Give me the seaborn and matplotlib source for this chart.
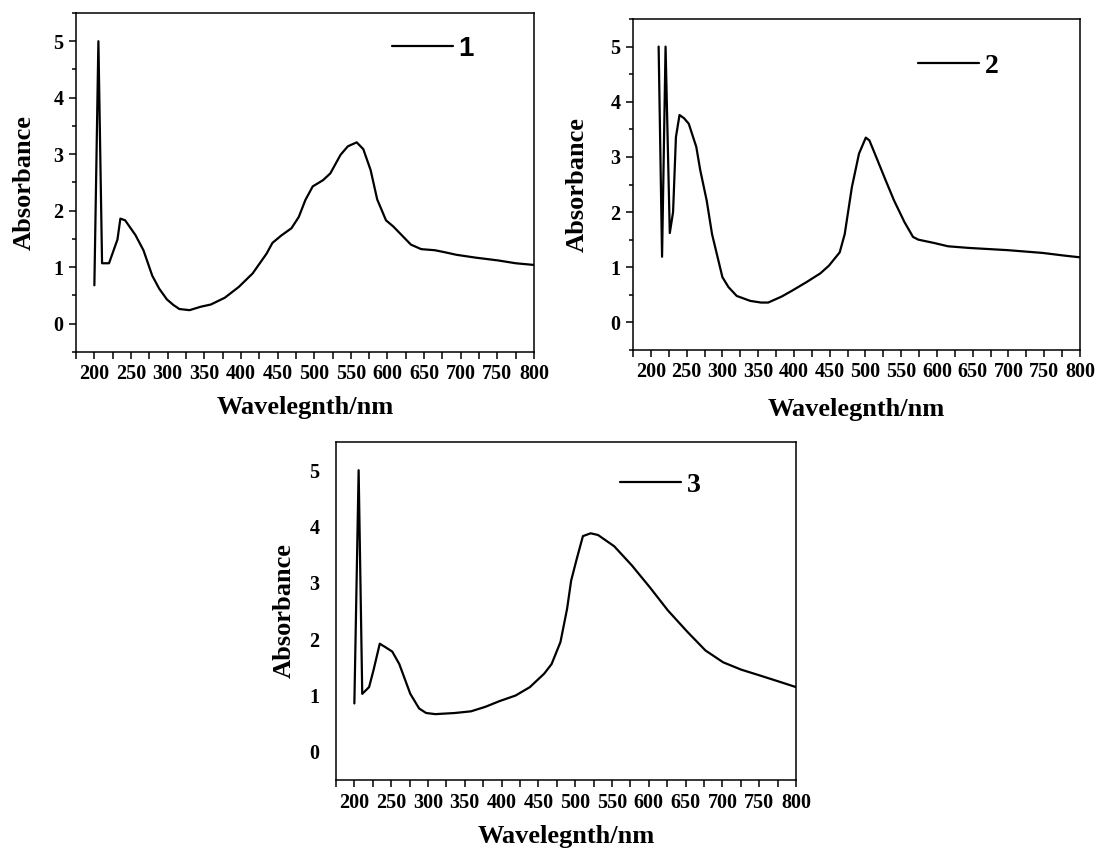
import numpy as np
import pandas as pd
import matplotlib
matplotlib.use('Agg')
import matplotlib.pyplot as plt
from matplotlib.ticker import MultipleLocator
import seaborn as sns

# ─── Data ─────────────────────────────────────────────────────────────────────
wl1 = [200, 205.5, 210.5, 220, 231.5, 235.5, 242, 256, 267, 279, 288.5, 299,
       308, 316, 330, 345, 359, 378, 397, 416, 435, 443, 455, 469, 479, 488,
       498, 512, 522, 536, 546, 558, 567, 577, 586, 598, 608, 617, 632, 646,
       665, 680, 694, 720, 751, 775, 800]
abs1 = [0.68, 5.0, 1.07, 1.07, 1.49, 1.86, 1.83, 1.57, 1.30, 0.85, 0.62, 0.43,
        0.33, 0.26, 0.24, 0.30, 0.34, 0.46, 0.65, 0.89, 1.24, 1.43, 1.56, 1.69,
        1.89, 2.19, 2.43, 2.54, 2.66, 2.99, 3.14, 3.21, 3.09, 2.72, 2.20, 1.83,
        1.72, 1.60, 1.40, 1.32, 1.30, 1.26, 1.22, 1.17, 1.12, 1.07, 1.04]

wl2 = [210.8, 215.6, 220.5, 226.4, 231, 235, 240, 246.5, 253, 263.5, 269,
       278, 285.5, 300, 308.5, 320, 339, 354, 364, 383, 398, 417.5, 437, 449,
       464, 471, 481, 491, 500.5, 505.5, 515, 527.5, 540, 554.5, 566.5, 574,
       596, 615.5, 645, 699, 747.5, 779, 800]
abs2 = [5.0, 1.19, 5.0, 1.62, 2.0, 3.36, 3.76, 3.70, 3.60, 3.18, 2.76, 2.21,
        1.60, 0.82, 0.64, 0.48, 0.39, 0.36, 0.36, 0.47, 0.58, 0.73, 0.89, 1.03,
        1.27, 1.60, 2.45, 3.06, 3.35, 3.30, 3.00, 2.60, 2.21, 1.82, 1.55, 1.50,
        1.44, 1.38, 1.35, 1.31, 1.26, 1.21, 1.18]

wl3 = [200, 205.8, 210.7, 220, 226, 234.5, 242, 251.5, 261, 276, 288, 297.5,
       310, 336.5, 358.5, 378, 397, 419, 438.5, 458, 468, 480, 489, 494.5,
       502, 510.5, 521, 531, 553, 577, 601.5, 626, 652.5, 677, 701, 725.5,
       750, 774, 800]
abs3 = [0.86, 5.0, 1.03, 1.15, 1.45, 1.92, 1.86, 1.78, 1.56, 1.03, 0.77, 0.69,
        0.67, 0.69, 0.72, 0.80, 0.90, 1.00, 1.15, 1.39, 1.56, 1.95, 2.54, 3.04,
        3.42, 3.83, 3.88, 3.85, 3.65, 3.31, 2.92, 2.51, 2.13, 1.80, 1.59, 1.46,
        1.36, 1.26, 1.15]

LABELS = ['1', '2', '3']
XTICKS = list(range(200, 801, 50))
YTICKS = [0, 1, 2, 3, 4, 5]

# ─── Style ────────────────────────────────────────────────────────────────────
sns.set_style('ticks')
plt.rcParams['font.family'] = ['Liberation Serif', 'DejaVu Serif']
plt.rcParams['font.weight'] = 'bold'
plt.rcParams['axes.labelweight'] = 'bold'
plt.rcParams['axes.linewidth'] = 1.1
plt.rcParams['axes.edgecolor'] = 'black'
for key in ['text.color', 'axes.labelcolor', 'xtick.color', 'ytick.color']:
    plt.rcParams[key] = 'black'

fig = plt.figure(figsize=(10.99, 8.57), dpi=100)

boxes = [
    [0.0692, 0.5893, 0.4167, 0.3956],
    [0.5760, 0.5916, 0.4067, 0.3862],
    [0.3057, 0.0898, 0.4186, 0.3944],
]
legend_pos  = [(0.69, 0.894), (0.638, 0.858), (0.617, 0.873)]
legend_font = [['Liberation Sans'], ['Liberation Serif'], ['Liberation Serif']]
ylabel_x    = [-0.087, -0.10, -0.087]
xlabel_y    = [-0.130, -0.145, -0.133]

series = [(wl1, abs1), (wl2, abs2), (wl3, abs3)]

for i, ((wl, ab), box) in enumerate(zip(series, boxes)):
    ax = fig.add_axes(box)
    df = pd.DataFrame({'Wavelength': wl, 'Absorbance': ab})
    sns.lineplot(data=df, x='Wavelength', y='Absorbance', ax=ax,
                 color='black', lw=1.6, sort=False, estimator=None,
                 label=LABELS[i])

    ax.set_xlim(175, 800)
    ax.set_ylim(-0.5, 5.5)
    ax.set_xticks(XTICKS)
    ax.xaxis.set_minor_locator(MultipleLocator(25))
    ax.set_yticks(YTICKS)
    ax.tick_params(axis='x', which='major', length=5, width=1.1,
                   labelsize=14.5, pad=4, direction='out')
    ax.tick_params(axis='x', which='minor', length=5, width=1.1,
                   direction='out')
    if i < 2:
        ax.yaxis.set_minor_locator(MultipleLocator(0.5))
        ax.tick_params(axis='y', which='major', length=5, width=1.1,
                       labelsize=14.5, pad=4, direction='out')
        ax.tick_params(axis='y', which='minor', length=3, width=1.1,
                       direction='out')
    else:
        ax.tick_params(axis='y', which='both', length=0, labelsize=14.5, pad=12)

    for lab in ax.get_xticklabels() + ax.get_yticklabels():
        lab.set_fontweight('bold')

    for sp in ax.spines.values():
        sp.set_visible(True)
        sp.set_color('black')
        sp.set_linewidth(1.1)

    ax.set_xlabel('Wavelegnth/nm', fontsize=19, fontweight='bold')
    ax.set_ylabel('Absorbance', fontsize=19, fontweight='bold')
    ax.xaxis.set_label_coords(0.5, xlabel_y[i])
    ax.yaxis.set_label_coords(ylabel_x[i], 0.5)

    leg = ax.legend(loc='center left', bbox_to_anchor=legend_pos[i],
                    frameon=False, handlelength=2.2, handletextpad=0.2,
                    borderpad=0, borderaxespad=0,
                    prop={'family': legend_font[i], 'weight': 'bold',
                          'size': 20})
    for ln in leg.get_lines():
        ln.set_linewidth(1.6)

fig.savefig('out.png', dpi=100)
